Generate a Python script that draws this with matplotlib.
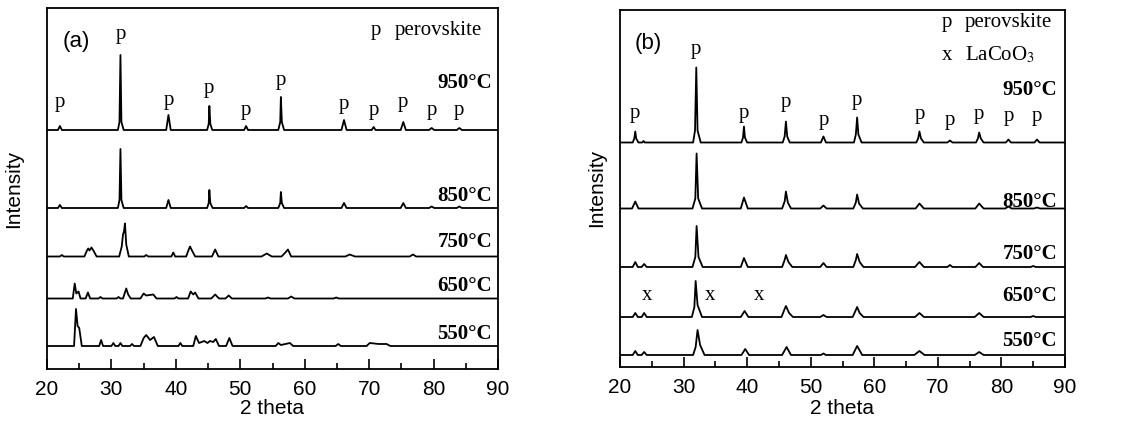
import matplotlib.pyplot as plt
from matplotlib.ticker import MultipleLocator

plt.rcParams['font.family'] = 'Liberation Sans'
plt.rcParams['mathtext.fontset'] = 'stix'

SERIF = 'Liberation Serif'

# ---- panel (a): digitised patterns, (2 theta, intensity above own baseline) ----
a950 = [(20, 0), (21.7, 0), (22.0, 4), (22.3, 0),
        (31.0, 0), (31.25, 8), (31.4, 75), (31.55, 8), (31.9, 0),
        (38.5, 0), (38.85, 15), (39.2, 0),
        (44.85, 0), (45.1, 6), (45.2, 24), (45.35, 6), (45.65, 0),
        (50.6, 0), (50.9, 4), (51.2, 0),
        (55.9, 0), (56.2, 8), (56.3, 33), (56.45, 8), (56.8, 0),
        (65.7, 0), (66.1, 10), (66.5, 0),
        (70.4, 0), (70.7, 3), (71.0, 0),
        (74.9, 0), (75.3, 8), (75.7, 0),
        (79.3, 0), (79.7, 2), (80.1, 0),
        (83.6, 0), (84.0, 2), (84.4, 0), (90, 0)]

a850 = [(20, 0), (21.7, 0), (22.0, 3), (22.3, 0),
        (31.0, 0), (31.25, 8), (31.4, 59), (31.55, 8), (31.9, 0),
        (38.5, 0), (38.85, 8), (39.2, 0),
        (44.85, 0), (45.1, 5), (45.2, 18), (45.35, 5), (45.7, 0),
        (50.6, 0), (50.9, 2), (51.2, 0),
        (55.9, 0), (56.2, 5), (56.3, 16), (56.45, 5), (56.8, 0),
        (65.7, 0), (66.1, 5), (66.5, 0),
        (74.9, 0), (75.3, 5), (75.7, 0),
        (79.3, 0), (79.7, 1.5), (80.1, 0),
        (83.6, 0), (84.0, 1.5), (84.4, 0), (90, 0)]

a750 = [(20, 0), (22.0, 0), (22.3, 1.5), (22.6, 0),
        (25.8, 0), (26.2, 6), (26.4, 8), (26.6, 6), (26.9, 9), (27.2, 6), (27.7, 0),
        (31.2, 0), (31.6, 10), (31.8, 22), (31.95, 25), (32.1, 33), (32.3, 12), (32.7, 0),
        (35.1, 0), (35.4, 1.5), (35.7, 0),
        (39.3, 0), (39.6, 4), (39.9, 0),
        (41.6, 0), (42.0, 7), (42.2, 10), (42.5, 6), (43.0, 0),
        (45.6, 0), (46.1, 7), (46.6, 0),
        (53.3, 0), (54.1, 3), (54.9, 0),
        (56.4, 0), (57.0, 4), (57.4, 7), (57.9, 0),
        (66.3, 0), (67.0, 2), (67.8, 0),
        (76.3, 0), (76.8, 2), (77.3, 0), (90, 0)]

a650 = [(20, 0), (24.0, 0), (24.3, 15), (24.55, 5), (24.9, 7), (25.2, 0),
        (26.0, 0), (26.35, 6), (26.7, 0),
        (28.0, 0), (28.3, 1.5), (28.6, 0),
        (30.8, 0), (31.1, 1.5), (31.4, 0),
        (31.8, 0), (32.1, 6), (32.3, 10), (32.6, 4), (33.0, 0),
        (34.5, 0), (35.0, 5), (35.4, 3), (36.5, 4), (37.0, 0),
        (39.8, 0), (40.1, 1.5), (40.4, 0),
        (41.9, 0), (42.3, 7), (42.7, 4), (43.0, 6), (43.5, 0),
        (45.5, 0), (46.1, 4), (46.7, 0),
        (47.7, 0), (48.2, 3), (48.7, 0),
        (53.9, 0), (54.3, 1), (54.7, 0),
        (57.4, 0), (57.9, 2), (58.4, 0),
        (64.5, 0), (64.9, 1), (65.3, 0), (90, 0)]

a550 = [(20, 0), (24.2, 0), (24.5, 37), (24.75, 20), (25.0, 18), (25.4, 0),
        (28.1, 0), (28.4, 6), (28.7, 0),
        (30.0, 0), (30.3, 3), (30.6, 0),
        (31.1, 0), (31.4, 3), (31.7, 0),
        (32.9, 0), (33.2, 2), (33.5, 0),
        (34.5, 0), (35.0, 8), (35.4, 11), (36.0, 6), (36.6, 9), (37.2, 0),
        (40.4, 0), (40.7, 3), (41.0, 0),
        (42.7, 0), (43.1, 10), (43.6, 3), (44.4, 5), (44.9, 3), (45.3, 5), (45.8, 4), (46.2, 7), (46.7, 0),
        (47.8, 0), (48.3, 8), (48.8, 0),
        (55.5, 0), (55.9, 3), (56.3, 1), (57.7, 3), (58.2, 0),
        (64.8, 0), (65.2, 2), (65.6, 0),
        (69.6, 0), (70.1, 3), (71.5, 2), (72.7, 2), (73.3, 0), (90, 0)]

# ---- panel (b) ----
b950 = [(20, 0), (22.0, 0), (22.25, 4), (22.4, 11), (22.55, 4), (22.9, 0),
        (23.5, 0), (23.7, 1.5), (23.9, 0),
        (31.5, 0), (31.8, 12), (32.0, 75), (32.2, 12), (32.7, 0),
        (39.1, 0), (39.35, 5), (39.5, 16), (39.65, 5), (40.0, 0),
        (45.6, 0), (45.9, 6), (46.1, 21), (46.3, 6), (46.7, 0),
        (51.6, 0), (52.0, 6), (52.4, 0),
        (56.8, 0), (57.1, 8), (57.3, 25), (57.5, 8), (58.0, 0),
        (66.6, 0), (66.9, 4), (67.1, 11), (67.35, 4), (67.8, 0),
        (71.5, 0), (71.9, 2), (72.3, 0),
        (76.0, 0), (76.3, 4), (76.5, 10), (76.75, 4), (77.2, 0),
        (80.7, 0), (81.1, 3), (81.5, 0),
        (85.2, 0), (85.6, 3), (86.0, 0), (90, 0)]

b850 = [(20, 0), (21.9, 0), (22.4, 7), (22.9, 0),
        (31.4, 0), (31.85, 10), (32.05, 55), (32.3, 10), (32.9, 0),
        (39.0, 0), (39.5, 11), (40.1, 0),
        (45.5, 0), (45.9, 7), (46.1, 17), (46.4, 6), (46.9, 0),
        (51.5, 0), (52.0, 3), (52.5, 0),
        (56.7, 0), (57.1, 6), (57.3, 14), (57.6, 5), (58.2, 0),
        (66.5, 0), (67.1, 5), (67.8, 0),
        (75.9, 0), (76.5, 5), (77.2, 0),
        (80.6, 0), (81.1, 2), (81.6, 0),
        (85.1, 0), (85.6, 1), (86.1, 0), (90, 0)]

b750 = [(20, 0), (22.0, 0), (22.4, 5), (22.8, 0), (23.4, 0), (23.8, 3), (24.2, 0),
        (31.4, 0), (31.85, 10), (32.05, 41), (32.35, 10), (33.0, 0),
        (39.0, 0), (39.5, 9), (40.1, 0),
        (45.5, 0), (45.9, 7), (46.1, 12), (46.5, 5), (47.1, 0),
        (51.5, 0), (52.0, 4), (52.5, 0),
        (56.7, 0), (57.1, 7), (57.3, 13), (57.7, 5), (58.3, 0),
        (66.4, 0), (67.1, 5), (67.8, 0),
        (71.5, 0), (71.9, 2), (72.3, 0),
        (75.9, 0), (76.5, 4), (77.1, 0),
        (84.6, 0), (85.0, 1), (85.4, 0), (90, 0)]

b650 = [(20, 0), (22.0, 0), (22.4, 4), (22.8, 0), (23.4, 0), (23.8, 4), (24.2, 0),
        (31.3, 0), (31.7, 10), (31.9, 36), (32.2, 12), (32.9, 0),
        (39.0, 0), (39.6, 6), (40.2, 0),
        (45.4, 0), (45.9, 8), (46.1, 11), (46.6, 4), (47.2, 0),
        (51.5, 0), (52.0, 2), (52.5, 0),
        (56.6, 0), (57.1, 7), (57.3, 10), (57.7, 4), (58.3, 0),
        (66.4, 0), (67.1, 4), (67.8, 0),
        (75.8, 0), (76.5, 4), (77.2, 0),
        (84.6, 0), (85.0, 1), (85.4, 0), (90, 0)]

b550 = [(20, 0), (22.0, 0), (22.4, 4), (22.8, 0), (23.4, 0), (23.8, 3), (24.2, 0),
        (31.5, 0), (31.9, 8), (32.2, 25), (32.6, 10), (33.3, 0),
        (39.1, 0), (39.7, 6), (40.3, 0),
        (45.5, 0), (46.2, 8), (46.9, 0),
        (51.6, 0), (52.0, 1.5), (52.4, 0),
        (56.6, 0), (57.3, 9), (58.1, 0),
        (66.3, 0), (67.1, 4), (67.9, 0),
        (75.8, 0), (76.5, 3), (77.2, 0), (90, 0)]

temps = ['950°C', '850°C', '750°C', '650°C', '550°C']

offsets_a = [239, 161, 112.5, 70.5, 23]
offsets_b = [224.5, 158.5, 100, 50, 12]
temp_y_a = [286, 173, 127, 83, 35]
temp_y_b = [277, 165, 113, 71, 26]

# "p" markers above the 950 C pattern (position, text baseline height)
p_pos_a = [22.0, 31.4, 38.85, 45.2, 50.9, 56.3, 66.1, 70.7, 75.3, 79.7, 84.0]
p_y_a = [261.5, 330, 264.5, 276.5, 253.5, 283.5, 259.5, 254.5, 261.5, 254.5, 254.5]
p_pos_b = [22.4, 32.0, 39.5, 46.1, 52.0, 57.3, 67.1, 71.9, 76.5, 81.1, 85.6]
p_y_b = [249, 313, 249, 259.5, 241.5, 261.5, 247.5, 241.5, 247.5, 246.5, 246.5]

# LaCoO3 markers on the 650 C pattern of (b)
x_pos_b = [24.2, 34.1, 41.9]
x_y_b = 66.5

fig = plt.figure(figsize=(11.29, 4.28), dpi=100)
ax_a = fig.add_axes([47 / 1129, 1 - 369 / 428, 451 / 1129, 361 / 428])
ax_b = fig.add_axes([620 / 1129, 1 - 367 / 428, 445 / 1129, 357.5 / 428])


def draw_panel(ax, curves, offsets, temp_y, ytop, tag, label_x):
    for pts, off in zip(curves, offsets):
        xs = [p[0] for p in pts]
        ys = [p[1] + off for p in pts]
        ax.plot(xs, ys, color='black', lw=1.3)
    for t, ty in zip(temps, temp_y):
        ax.text(label_x, ty, t, ha='right', va='center', fontsize=15,
                fontweight='bold', family=SERIF)
    ax.set_xlim(20, 90)
    ax.set_ylim(0, ytop)
    ax.set_yticks([])
    ax.xaxis.set_major_locator(MultipleLocator(10))
    ax.xaxis.set_minor_locator(MultipleLocator(5))
    ax.tick_params(axis='x', which='major', direction='in', length=7, width=1.2,
                   labelsize=15, pad=8)
    ax.tick_params(axis='x', which='minor', direction='in', length=4, width=1.2)
    for s in ax.spines.values():
        s.set_linewidth(1.3)
    ax.set_xlabel('2 theta', fontsize=15)
    ax.set_ylabel('Intensity', fontsize=15)
    ax.text(24.5, ytop - 34, tag, ha='center', va='center', fontsize=16)


draw_panel(ax_a, [a950, a850, a750, a650, a550], offsets_a, temp_y_a, 361, '(a)', 89.05)
draw_panel(ax_b, [b950, b850, b750, b650, b550], offsets_b, temp_y_b, 357.5, '(b)', 88.75)

ax_a.xaxis.set_label_coords(0.5, -0.083)
ax_b.xaxis.set_label_coords(0.5, -0.09)
ax_a.yaxis.set_label_coords(-0.053, 0.5)
ax_b.yaxis.set_label_coords(-0.031, 0.5)

for xp, yp in zip(p_pos_a, p_y_a):
    ax_a.text(xp, yp, 'p', ha='center', va='baseline', fontsize=15, family=SERIF)
for xp, yp in zip(p_pos_b, p_y_b):
    ax_b.text(xp, yp, 'p', ha='center', va='baseline', fontsize=15, family=SERIF)
for xp in x_pos_b:
    ax_b.text(xp, x_y_b, 'x', ha='center', va='baseline', fontsize=15, family=SERIF)

# legends
ax_a.text(71.06, 334, 'p', ha='center', va='baseline', fontsize=15, family=SERIF)
ax_a.text(74.0, 334, 'perovskite', ha='left', va='baseline', fontsize=15, family=SERIF)
ax_b.text(71.4, 340, 'p', ha='center', va='baseline', fontsize=15, family=SERIF)
ax_b.text(74.3, 340, 'perovskite', ha='left', va='baseline', fontsize=15, family=SERIF)
ax_b.text(71.4, 306.5, 'x', ha='center', va='baseline', fontsize=15, family=SERIF)
ax_b.text(74.3, 306.5, 'LaCoO$_3$', ha='left', va='baseline', fontsize=15, family=SERIF)

fig.savefig('out.png', dpi=100)
